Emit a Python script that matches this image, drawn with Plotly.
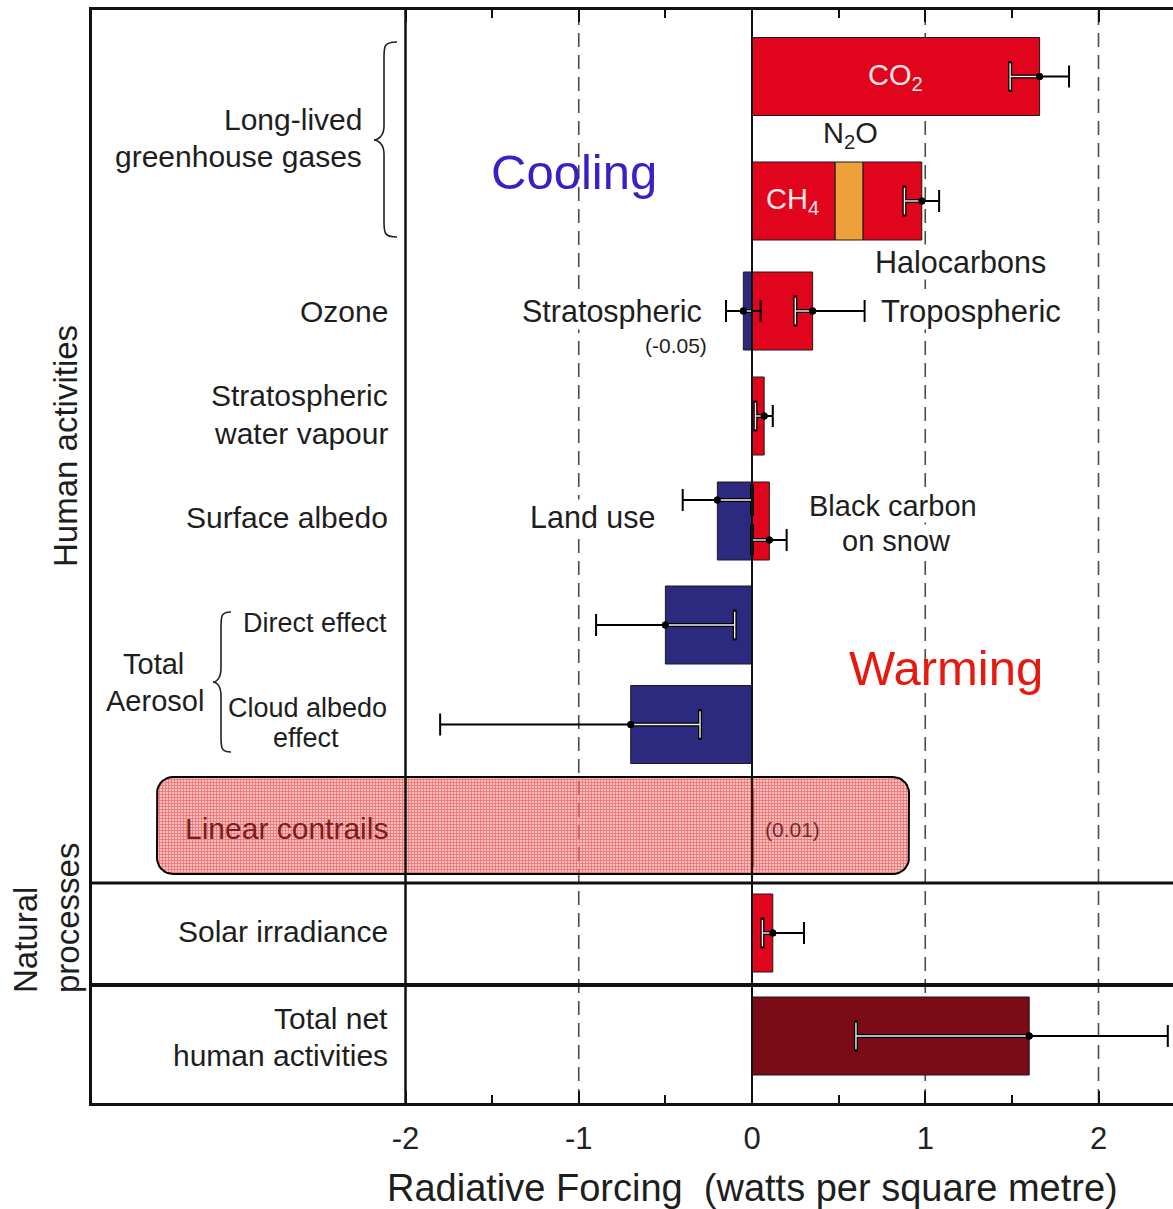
import numpy as np
import plotly.graph_objects as go

# ---------------- data (W m-2) ----------------
comp_names = ["CO2", "CH4", "N2O", "Halocarbons", "Stratospheric ozone", "Tropospheric ozone",
              "Stratospheric water vapour", "Land use", "Black carbon on snow",
              "Aerosol direct effect", "Cloud albedo effect", "Linear contrails",
              "Solar irradiance", "Total net human activities"]
comp_values = [1.66, 0.48, 0.16, 0.34, -0.05, 0.35, 0.07, -0.20, 0.10, -0.50, -0.70, 0.01, 0.12, 1.60]
comp_row = [0, 1, 1, 1, 2, 2, 3, 4, 4, 5, 6, 7, 8, 9]
comp_kind = ["warm", "warm", "n2o", "warm", "cool", "warm", "warm", "cool", "warm",
             "cool", "cool", "warm", "warm", "total"]

err_names = ["CO2", "CH4+N2O+Halocarbons", "Stratospheric ozone", "Tropospheric ozone",
             "Stratospheric water vapour", "Land use", "Black carbon on snow",
             "Direct effect", "Cloud albedo effect", "Solar irradiance", "Total net"]
err_center = [1.66, 0.98, -0.05, 0.35, 0.07, -0.20, 0.10, -0.50, -0.70, 0.12, 1.60]
err_low = [1.49, 0.88, -0.15, 0.25, 0.02, -0.40, 0.00, -0.90, -1.80, 0.06, 0.60]
err_high = [1.83, 1.08, 0.05, 0.65, 0.12, 0.00, 0.20, -0.10, -0.30, 0.30, 2.40]
err_row = [0, 1, 2, 2, 3, 4, 4, 5, 6, 8, 9]

tick_vals = [-2, -1, 0, 1, 2]
tick_text = ["-2", "-1", "0", "1", "2"]
minor_vals = [-1.5, -0.5, 0.5, 1.5]

# ---------------- layout helpers ----------------
W, H = 1173, 1209
ML, MT, MB = 92, 10, 106
X0_PX, PX_PER_UNIT = 752, 173.25
Y_UNIT_PX = 104.0
FONT = "Liberation Sans, Arial, Helvetica, sans-serif"


def px_x(p):
    return (p - X0_PX) / PX_PER_UNIT


def px_y(p):
    return (p - MT) / Y_UNIT_PX


def px_xp(p):
    return (p - ML) / (W - ML)


def px_yp(p):
    return 1 - (p - MT) / (H - MT - MB)


x_range = [px_x(ML), px_x(W)]
y_range = [px_y(H - MB), px_y(MT)]

row_px = [76.5, 201, 311, 416, 521, 625, 724.5, 828, 933, 1036]
row_y = [px_y(p) for p in row_px]
err_off_px = [0, 0, 0, 0, 0, -21, 19, 0, 0, 0, 0]
BAR_W = 78 / Y_UNIT_PX

colors = {"warm": "#E1041D", "n2o": "#EEA03A", "cool": "#2B2A7F", "total": "#7B0B17"}

# stacked bases for positive components within a row
bases = []
acc = {}
for v, r in zip(comp_values, comp_row):
    if v >= 0:
        b = acc.get(r, 0.0)
        acc[r] = b + v
    else:
        b = 0.0
    bases.append(b)

fig = go.Figure()

for kind in ["warm", "n2o", "cool", "total"]:
    idx = [i for i, k in enumerate(comp_kind) if k == kind]
    fig.add_trace(go.Bar(
        orientation="h",
        x=[comp_values[i] for i in idx],
        base=[bases[i] for i in idx],
        y=[row_y[comp_row[i]] for i in idx],
        width=BAR_W,
        marker=dict(color=colors[kind], line=dict(color="#1a1a1a", width=1)),
        hoverinfo="skip", showlegend=False))

ey = [row_y[r] + o / Y_UNIT_PX for r, o in zip(err_row, err_off_px)]

# black error bars
fig.add_trace(go.Scatter(
    x=err_center, y=ey, mode="markers",
    marker=dict(color="black", size=7),
    error_x=dict(type="data", symmetric=False,
                 array=[h - c for h, c in zip(err_high, err_center)],
                 arrayminus=[c - l for c, l in zip(err_center, err_low)],
                 color="black", thickness=2, width=11),
    hoverinfo="skip", showlegend=False))

# parts of the error bars lying inside a bar: white core with black edges
in_x, in_y, cap_x, cap_y = [], [], [], []
for c, lo, hi, y in zip(err_center, err_low, err_high, ey):
    bmin, bmax = min(0.0, c), max(0.0, c)
    a, b = max(lo, bmin), min(hi, bmax)
    if a < b:
        in_x += [a, b, None]
        in_y += [y, y, None]
        if lo >= bmin - 1e-9:
            cap_x.append(lo); cap_y.append(y)
        if hi <= bmax + 1e-9:
            cap_x.append(hi); cap_y.append(y)

fig.add_trace(go.Scatter(x=in_x, y=in_y, mode="lines", line=dict(color="black", width=4),
                         hoverinfo="skip", showlegend=False))
fig.add_trace(go.Scatter(x=cap_x, y=cap_y, mode="markers",
                         marker=dict(symbol="line-ns", size=22, line=dict(color="black", width=4)),
                         hoverinfo="skip", showlegend=False))
fig.add_trace(go.Scatter(x=in_x, y=in_y, mode="lines", line=dict(color="#f4f0f0", width=1.4),
                         hoverinfo="skip", showlegend=False))
fig.add_trace(go.Scatter(x=cap_x, y=cap_y, mode="markers",
                         marker=dict(symbol="line-ns", size=19, line=dict(color="#f4f0f0", width=1.4)),
                         hoverinfo="skip", showlegend=False))
fig.add_trace(go.Scatter(x=err_center, y=ey, mode="markers", marker=dict(color="black", size=7),
                         hoverinfo="skip", showlegend=False))


# highlight box around the "Linear contrails" row (rounded, hatched)
def rounded_rect(x0, x1, y0, y1, r, n=10):
    pts = []
    corners = [(x1 - r, y0 + r, -90, 0), (x1 - r, y1 - r, 0, 90),
               (x0 + r, y1 - r, 90, 180), (x0 + r, y0 + r, 180, 270)]
    for cx, cy, a0, a1 in corners:
        for t in np.linspace(np.radians(a0), np.radians(a1), n):
            pts.append((cx + r * np.cos(t), cy + r * np.sin(t)))
    pts.append(pts[0])
    return [px_x(p[0]) for p in pts], [px_y(p[1]) for p in pts]


bx, by = rounded_rect(157, 909, 777, 874, 16)
fig.add_trace(go.Scatter(
    x=bx, y=by, mode="lines", fill="toself",
    line=dict(color="black", width=2),
    fillpattern=dict(shape="+", fgcolor="rgba(230,28,28,0.9)", bgcolor="rgba(245,150,150,0.6)",
                     size=3, solidity=0.5),
    hoverinfo="skip", showlegend=False))

# ---------------- shapes ----------------
shapes = []
for xv in [-1, 1, 2]:
    shapes.append(dict(type="line", xref="x", yref="y", x0=xv, x1=xv, y0=y_range[0], y1=y_range[1],
                       line=dict(color="#4a4a4a", width=1.6, dash="14px,8px"), layer="below"))
shapes.append(dict(type="line", xref="x", yref="y", x0=-2, x1=-2, y0=y_range[0], y1=y_range[1],
                   line=dict(color="#111", width=2.5), layer="above"))
shapes.append(dict(type="line", xref="x", yref="y", x0=0, x1=0, y0=y_range[0], y1=y_range[1],
                   line=dict(color="#111", width=2), layer="above"))
for yp, lw in [(883, 3), (985, 4)]:
    shapes.append(dict(type="line", xref="paper", yref="y", x0=0, x1=1, y0=px_y(yp), y1=px_y(yp),
                       line=dict(color="#111", width=lw), layer="above"))


def brace(xe, xs, xt, yt, ym, yb):
    """left-pointing curly brace: ends at xe, stem at xs, tip at xt"""
    P = lambda x, y: f"{px_x(x)},{px_y(y)}"
    d = (f"M {P(xe, yt)} C {P(xs, yt)} {P(xs, yt + 4)} {P(xs, yt + 16)} "
         f"L {P(xs, ym - 14)} C {P(xs, ym - 3)} {P(xt + 3, ym)} {P(xt, ym)} "
         f"C {P(xt + 3, ym)} {P(xs, ym + 3)} {P(xs, ym + 14)} "
         f"L {P(xs, yb - 16)} C {P(xs, yb - 4)} {P(xs, yb)} {P(xe, yb)}")
    return dict(type="path", xref="x", yref="y", path=d, line=dict(color="#222", width=1.6), layer="above")


shapes.append(brace(397, 384, 374, 42, 140, 237))
shapes.append(brace(231, 221, 213, 612, 682, 752))

# ---------------- annotations ----------------
anns = []


def ann(text, xp, yp, size=30, anchor="right", color="#1e1e1e", bg=None, angle=0, paper=False):
    if paper:
        d = dict(x=px_xp(xp), y=px_yp(yp), xref="paper", yref="paper")
    else:
        d = dict(x=px_x(xp), y=px_y(yp), xref="x", yref="y")
    d.update(text=text, showarrow=False, xanchor=anchor, yanchor="middle",
             font=dict(size=size, color=color, family=FONT), textangle=angle, borderpad=0)
    if bg:
        d["bgcolor"] = bg
    anns.append(d)


ann("Long-lived", 363, 119)
ann("greenhouse gases", 363, 156)
ann("Ozone", 389, 311)
ann("Stratospheric", 389, 395)
ann("water vapour", 389, 433)
ann("Surface albedo", 389, 517)
ann("Direct effect", 388, 623, size=27)
ann("Total", 153, 664, size=29, anchor="center")
ann("Aerosol", 155, 701, size=29, anchor="center")
ann("Cloud albedo", 388, 708, size=27)
ann("effect", 306, 738, size=27, anchor="center")
ann("Linear contrails", 389, 828, color="#7a1e1e")
ann("Solar irradiance", 389, 931)
ann("Total net", 389, 1018)
ann("human activities", 389, 1055)

ann("CO<sub>2</sub>", 895, 77, size=29, color="#ffe6e6", anchor="center")
ann("CH<sub>4</sub>", 792, 201, size=29, color="#ffe6e6", anchor="center")
ann("N<sub>2</sub>O", 850, 135, size=29, anchor="center", bg="white")
ann("Halocarbons", 960, 262, size=30.5, anchor="center", bg="white")
ann("Stratospheric", 703, 311, size=30.5, bg="white")
ann("(-0.05)", 708, 345, size=21)
ann("Tropospheric", 880, 311, size=31, anchor="left", bg="white")
ann("Land use", 657, 517, size=30.5, bg="white")
ann("Black carbon", 893, 506, size=29, anchor="center", bg="white")
ann("on snow", 896, 541, size=29, anchor="center", bg="white")
ann("(0.01)", 764, 829, size=21, anchor="left", color="#6a3030")

ann("Cooling", 574, 172, size=49, anchor="center", color="#3A1EC6")
ann("Warming", 946, 668, size=49, anchor="center", color="#E8180E")

ann("Human activities", 65, 446, size=33, anchor="center", angle=-90, paper=True)
ann("Natural", 25, 940, size=33, anchor="center", angle=-90, paper=True)
ann("processes", 67, 918, size=33, anchor="center", angle=-90, paper=True)

ann("Radiative Forcing \u00a0(watts per square metre)", 752, 1188, size=38, anchor="center", paper=True)

fig.update_layout(
    width=W, height=H,
    margin=dict(l=ML, r=0, t=MT, b=MB),
    paper_bgcolor="white", plot_bgcolor="white",
    barmode="overlay", showlegend=False,
    shapes=shapes, annotations=anns,
    font=dict(family=FONT, color="#1e1e1e"),
    xaxis=dict(range=x_range, tickvals=tick_vals, ticktext=tick_text, ticks="inside",
               ticklen=12, tickwidth=2, tickcolor="#111", showgrid=False, zeroline=False,
               showline=True, linewidth=3, linecolor="#111", mirror="ticks",
               ticklabelstandoff=6,
               tickfont=dict(size=31, color="#222", family=FONT),
               minor=dict(tickvals=minor_vals, ticks="inside", ticklen=8, tickwidth=2, tickcolor="#111")),
    yaxis=dict(range=y_range, showticklabels=False, ticks="", showgrid=False, zeroline=False,
               showline=True, linewidth=3, linecolor="#111", mirror=False),
)

fig.write_html("out.html", config={"displayModeBar": False},
               post_script="document.body.style.margin='0px';")
